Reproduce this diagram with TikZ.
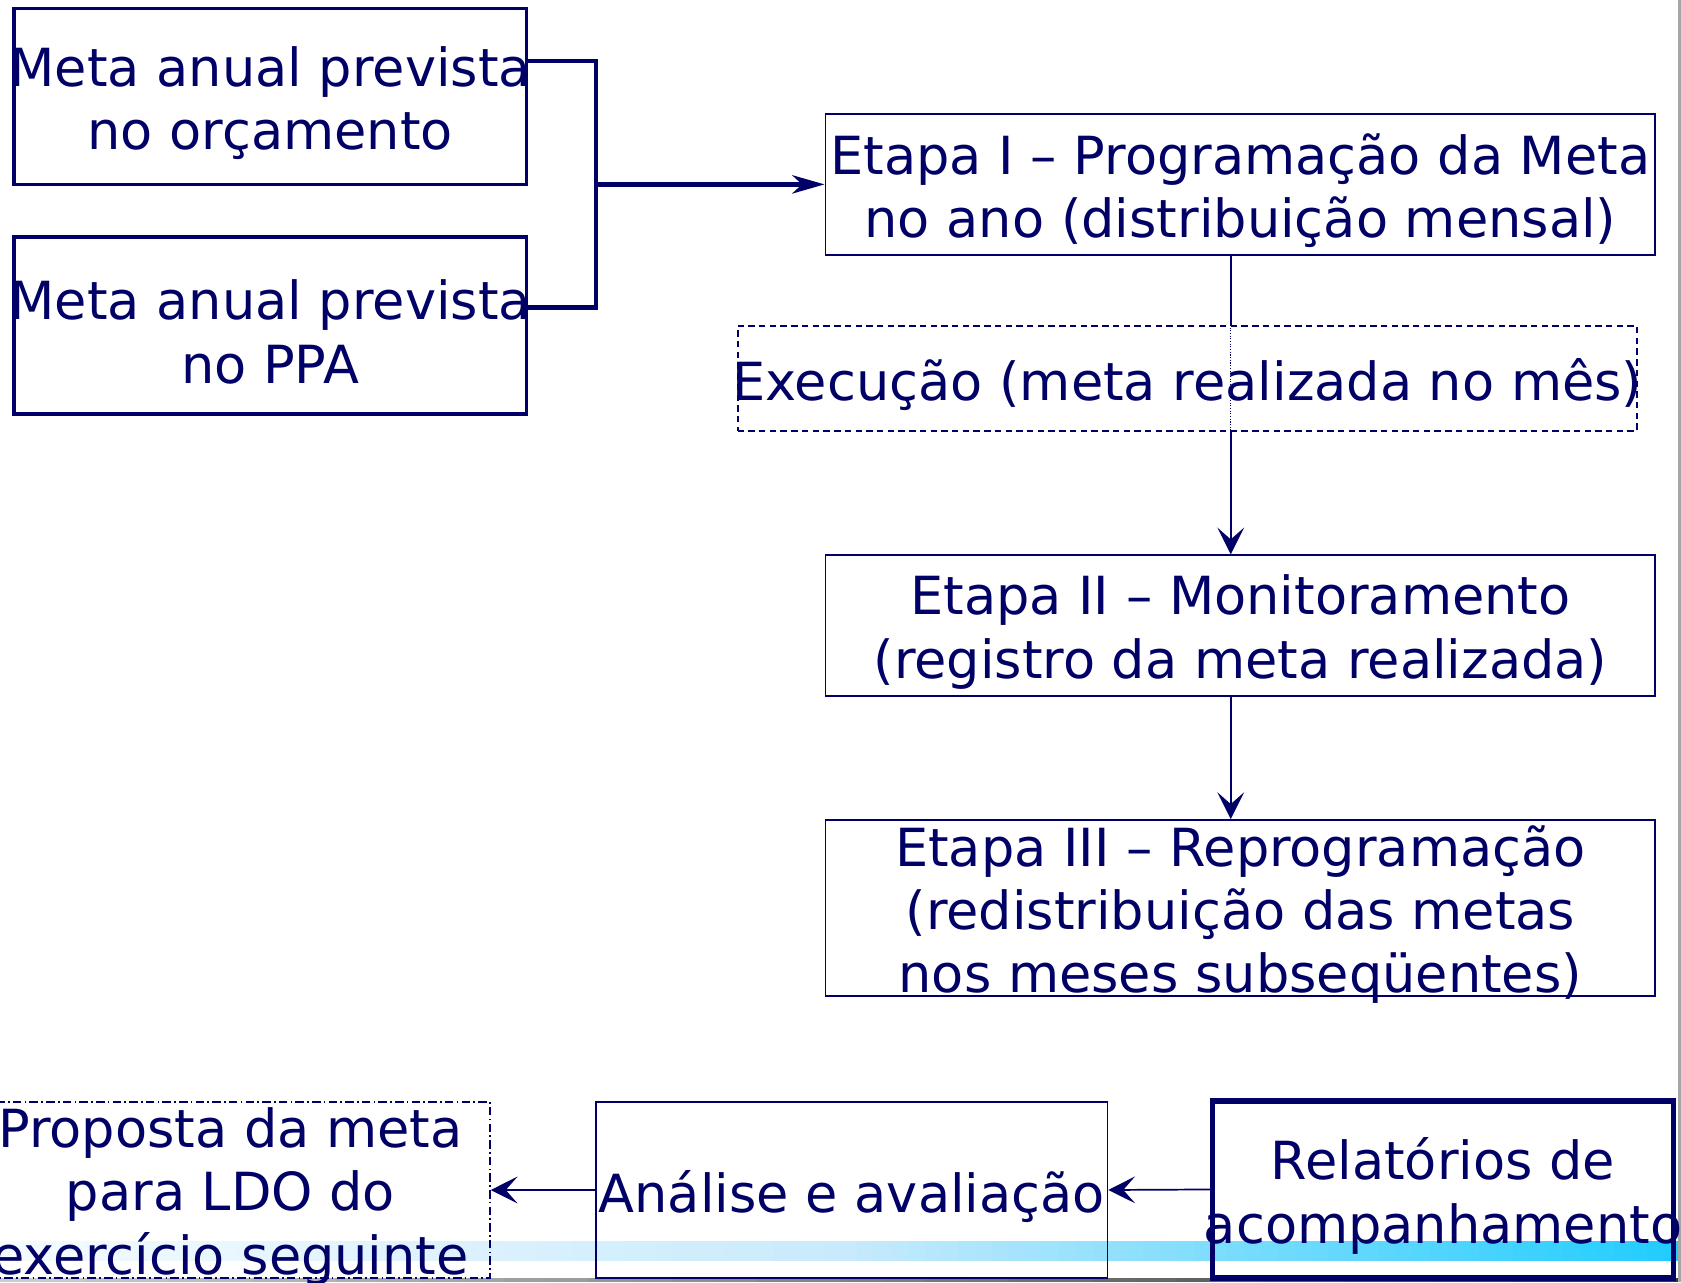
\documentclass[tikz,border=0pt]{standalone}
\usepackage{fontspec}
\setmainfont{DejaVu Sans}
\usetikzlibrary{arrows.meta}
\definecolor{nv}{RGB}{0,0,102}
\definecolor{barL}{RGB}{244,251,255}
\definecolor{barM}{RGB}{200,234,252}
\definecolor{barR}{RGB}{30,204,255}
\tikzset{
  bx/.style={draw=nv, rectangle, inner sep=0pt},
  tx/.style={text=nv, align=center, inner sep=0pt, yshift=-6pt, font=\fontsize{49}{59}\selectfont},
  thinarr/.style={draw=nv, line width=1.6pt, -{Stealth[length=25pt,width=25pt,inset=11pt]}},
  thickarr/.style={draw=nv, line width=4.4pt, -{Stealth[length=30pt,width=17pt,inset=9pt]}}
}
\begin{document}
\begin{tikzpicture}[x=1pt,y=-1pt]
\useasboundingbox (0,0) rectangle (1568,1196);
\fill[white] (0,0) rectangle (1568,1196);
% gradient bar (strips)
\foreach \i in {0,...,49}{
  \pgfmathtruncatemacro\p{\i*2}
  \fill[barM!\p!barL] ({\i*15.68},1158) rectangle ({(\i+1)*15.68+0.6},1176);
}
\foreach \i in {50,...,99}{
  \pgfmathtruncatemacro\p{(\i-50)*2}
  \fill[barR!\p!barM] ({\i*15.68},1158) rectangle ({(\i+1)*15.68+0.6},1176);
}
% page edges
\foreach \i in {0,...,39}{
  \pgfmathtruncatemacro\p{20+\i*1.5}
  \fill[black!\p] ({\i*39.2},1192.5) rectangle ({(\i+1)*39.2+0.6},1196);
}
\fill[gray!70] (1565.5,0) rectangle (1568,1196);
% boxes
\node[bx, line width=3.3pt, minimum width=478pt, minimum height=164pt] (A) at (252,90) {};
\node[tx] (At) at (A) {Meta anual prevista\\no orçamento};
\node[bx, line width=3.3pt, minimum width=478pt, minimum height=165pt] (B) at (252,303.5) {};
\node[tx] (Bt) at (B) {Meta anual prevista\\no PPA};
\node[bx, line width=1.8pt, minimum width=774pt, minimum height=132pt] (C) at (1157,172) {};
\node[tx] (Ct) at (C) {Etapa I – Programação da Meta\\no ano (distribuição mensal)};
\node[bx, line width=1.8pt, minimum width=774pt, minimum height=131pt] (D) at (1157,583.5) {};
\node[tx] (Dt) at (D) {Etapa II – Monitoramento\\(registro da meta realizada)};
\node[bx, line width=1.8pt, minimum width=774pt, minimum height=164pt] (E) at (1157,847) {};
\node[tx] (Et) at (E) {Etapa III – Reprogramação\\(redistribuição das metas\\nos meses subseqüentes)};
\node[bx, line width=1.5pt, dash pattern=on 8pt off 3pt on 1.5pt off 3pt, minimum width=484pt, minimum height=164pt] (F) at (215,1110) {};
\node[tx] (Ft) at (F) {Proposta da meta\\para LDO do\\exercício seguinte};
\node[bx, line width=1.5pt, minimum width=477pt, minimum height=164pt] (G) at (794.5,1110) {};
\node[tx] (Gt) at (G) {Análise e avaliação};
\node[bx, line width=5pt, minimum width=430pt, minimum height=165pt] (H) at (1346,1109.5) {};
\node[tx] (Ht) at (H) {Relatórios de\\acompanhamento};
% connectors
\coordinate (j) at (556,172);
\draw[nv, line width=4.4pt] ([yshift=33pt]A.east) -| (j) |- ([yshift=16.5pt]B.east);
\draw[thickarr] (j) -- (C.west);
\coordinate (cs) at (1148,238);
\draw[thinarr] (cs) -- (cs |- D.north);
\node[bx, fill=white, line width=1.8pt, dash pattern=on 6pt off 4pt, minimum width=839pt, minimum height=98pt] (X) at (1107.5,353) {};
\draw[nv, line width=1.2pt, dash pattern=on 1pt off 1.5pt] (cs |- X.north) -- (cs |- X.south);
\node[tx] (Xt) at (X) {Execução (meta realizada no mês)};
\draw[thinarr] (1148,649) -- (1148,764);
\draw[thinarr] (H.west) -- (G.east);
\draw[thinarr] (G.west) -- (F.east);
\end{tikzpicture}
\end{document}
